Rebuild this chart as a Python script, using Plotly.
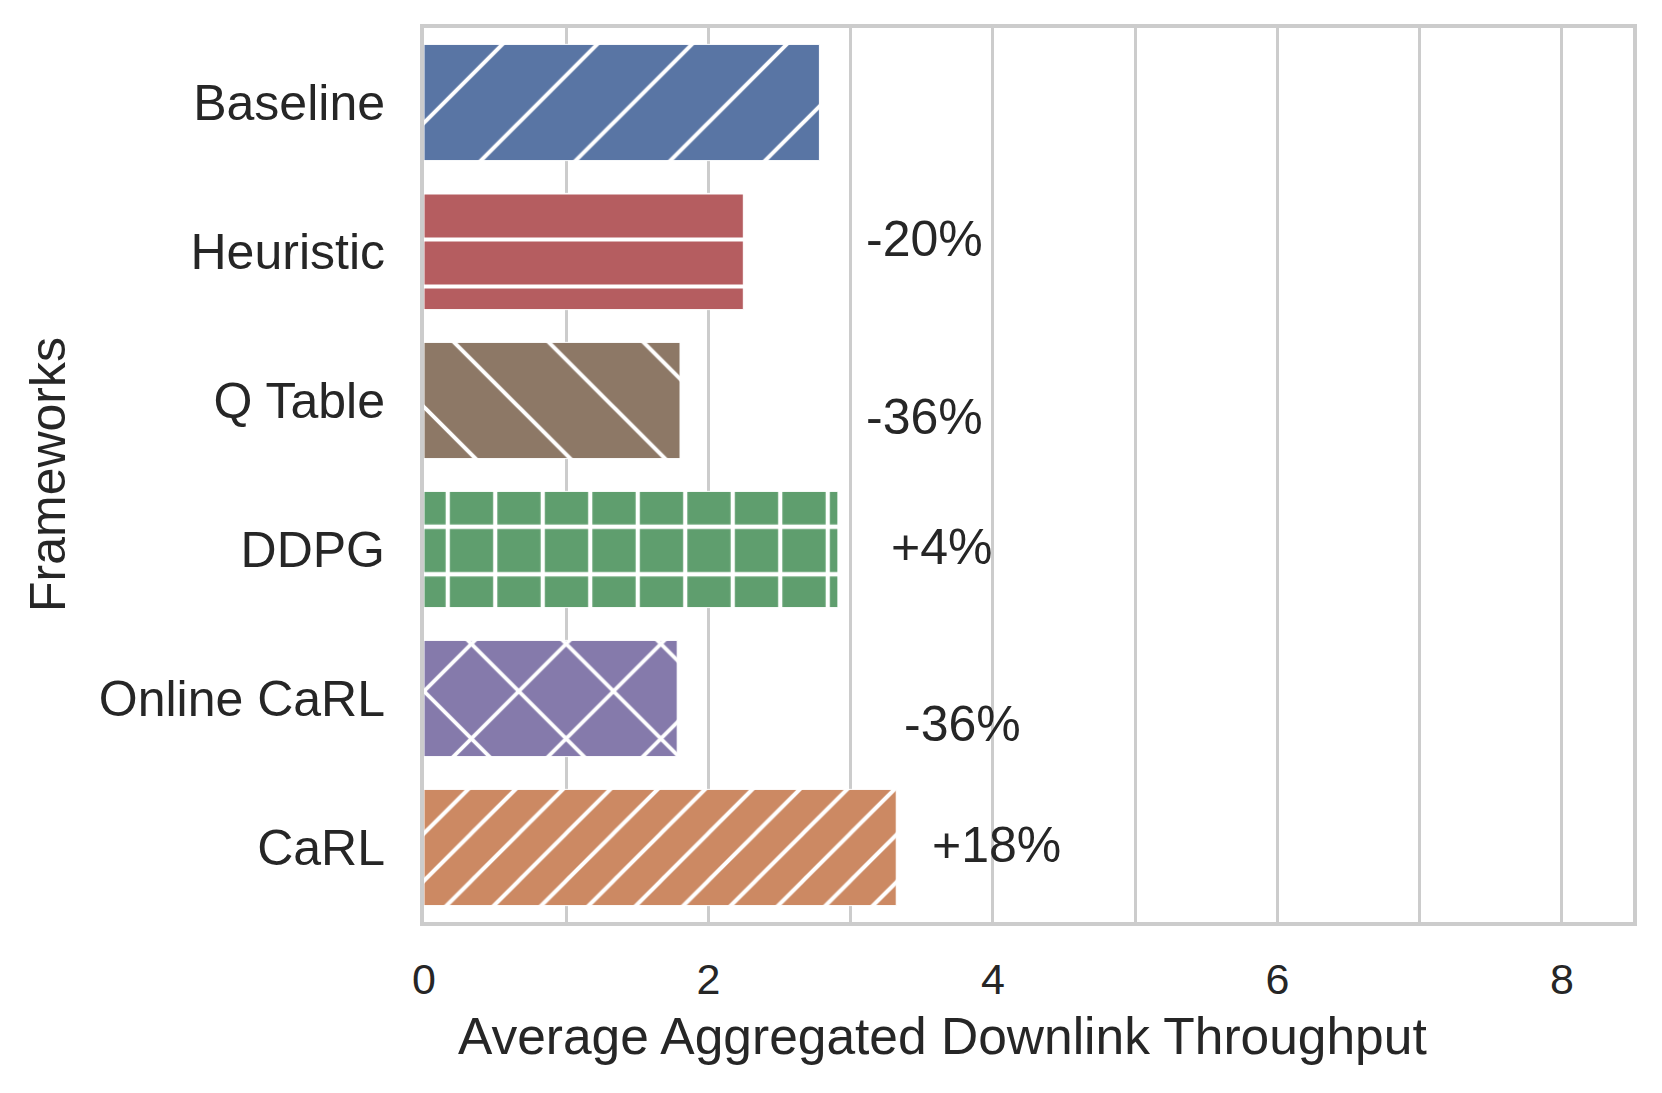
import plotly.graph_objects as go

# ---- data ----
frameworks = ["Baseline", "Heuristic", "Q Table", "DDPG", "Online CaRL", "CaRL"]
throughput = [2.78, 2.245, 1.80, 2.91, 1.78, 3.32]
bar_colors = ["#5975a4", "#b55d60", "#8d7866", "#5f9e6e", "#857aab", "#cc8963"]
hatch_shapes = ["/", "-", "\\", "+", "x", "/"]

change_labels = ["-20%", "-36%", "+4%", "-36%", "+18%"]
change_label_x = [3.09, 3.09, 3.27, 3.36, 3.56]       # left edge of text, data units
change_label_y = [0.915, 2.11, 2.985, 4.17, 4.985]    # category index positions

x_tick_vals = [0, 1, 2, 3, 4, 5, 6, 7, 8]
x_tick_text = ["0", "", "2", "", "4", "", "6", "", "8"]

# ---- styles ----
hatch_sizes = [67, 47, 67, 47.5, 67, 33.5]
hatch_solidity = [0.06, 0.09, 0.06, 0.17, 0.11, 0.12]
FONT = "Liberation Sans, Arial, sans-serif"
TXT = "#262626"
GRID = "#cccccc"

fig = go.Figure()
for name, val, col, shp, sz, sol in zip(frameworks, throughput, bar_colors,
                                         hatch_shapes, hatch_sizes, hatch_solidity):
    fig.add_trace(go.Bar(
        x=[val],
        y=[name],
        orientation="h",
        width=0.78,
        name=name,
        marker=dict(
            color=col,
            line=dict(color="white", width=1),
            pattern=dict(
                shape=shp,
                size=sz,
                solidity=sol,
                fgcolor="white",
                bgcolor=col,
                fgopacity=1,
                fillmode="replace",
            ),
        ),
        showlegend=False,
        hoverinfo="x+y",
    ))

for txt, xx, yy in zip(change_labels, change_label_x, change_label_y):
    fig.add_annotation(
        x=xx, y=yy, xref="x", yref="y", text=txt, showarrow=False,
        xanchor="left", yanchor="middle",
        font=dict(family=FONT, size=50, color=TXT),
    )

fig.add_annotation(
    x=0.4285, y=-0.1275, xref="paper", yref="paper",
    text="Average Aggregated Downlink Throughput", showarrow=False,
    xanchor="center", yanchor="middle",
    font=dict(family=FONT, size=51.5, color=TXT),
)
fig.add_annotation(
    x=-0.311, y=0.5, xref="paper", yref="paper",
    text="Frameworks", showarrow=False, textangle=-90,
    xanchor="center", yanchor="middle",
    font=dict(family=FONT, size=50, color=TXT),
)

# page body has an 8px margin, so the figure is shrunk by 8px to fit the window
fig.update_layout(
    width=1654, height=1085,
    margin=dict(l=416, r=29, t=20, b=171),
    paper_bgcolor="white", plot_bgcolor="white",
    font=dict(family=FONT, color=TXT),
    barmode="overlay",
)
fig.update_xaxes(
    range=[0, 8.5],
    tickmode="array", tickvals=x_tick_vals, ticktext=x_tick_text,
    showgrid=True, gridcolor=GRID, gridwidth=3,
    showline=True, mirror=True, linecolor=GRID, linewidth=4,
    zeroline=False, ticks="",
    tickfont=dict(family=FONT, size=43, color=TXT),
    ticklabelstandoff=16,
)
fig.update_yaxes(
    categoryorder="array", categoryarray=frameworks,
    range=[5.5, -0.5],
    showgrid=False,
    showline=True, mirror=True, linecolor=GRID, linewidth=4,
    zeroline=False, ticks="",
    tickfont=dict(family=FONT, size=50, color=TXT),
    ticklabelstandoff=25,
)

fig.write_html("out.html")
